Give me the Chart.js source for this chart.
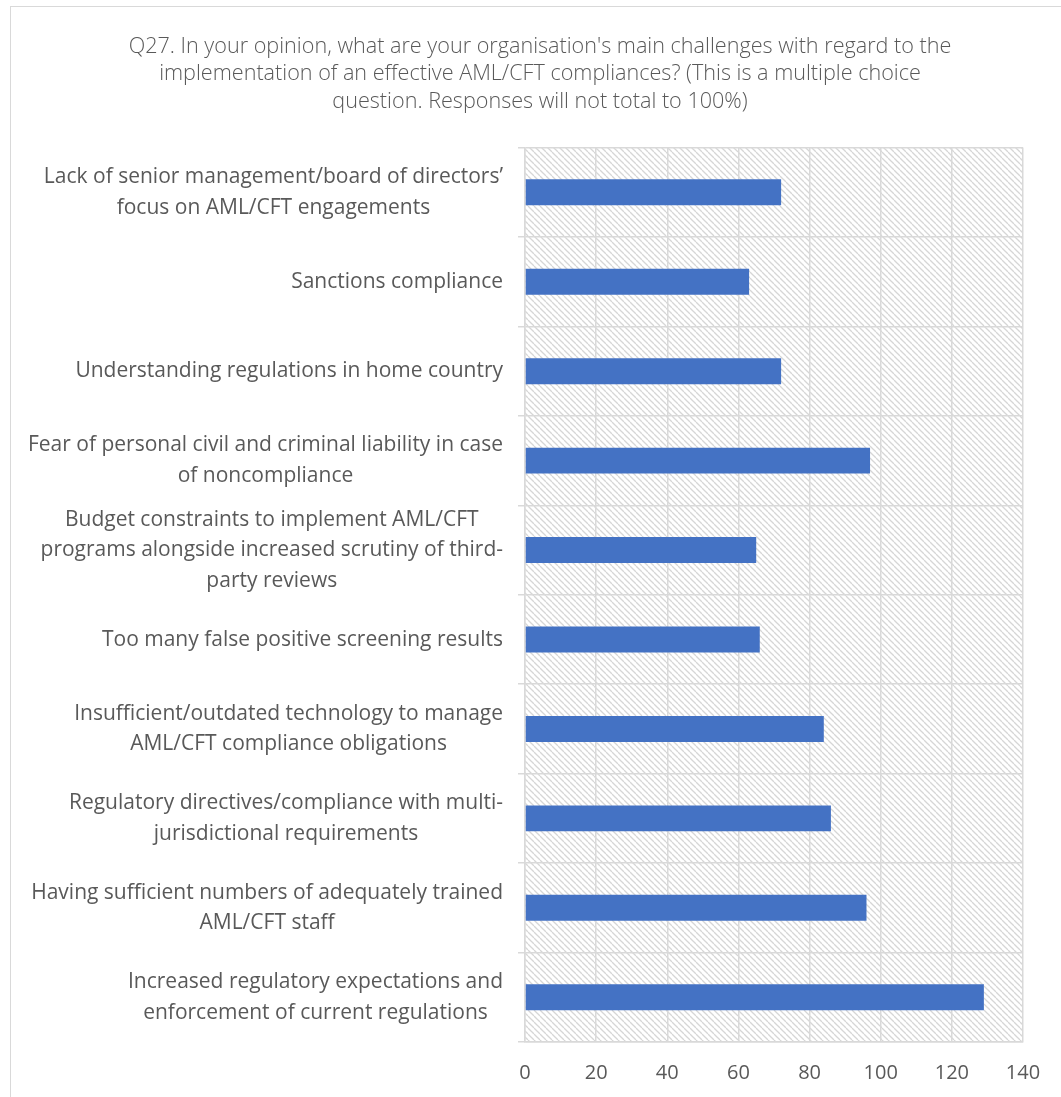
<!DOCTYPE html>
<html>
<head>
<meta charset="utf-8">
<title>Q27 AML/CFT challenges</title>
<script src="https://cdn.jsdelivr.net/npm/chart.js@4.4.1/dist/chart.umd.min.js"></script>
<style>
    html, body { margin: 0; padding: 0; background: #fff; overflow: hidden; }
    #frame {
        position: absolute; left: 10px; top: 6px;
        width: 1060px; height: 1100px;
        border: 1px solid #d9d9d9;
    }
    #challengeChart { position: absolute; left: 1px; top: 1px; }
</style>
</head>
<body>
<div id="frame">
    <canvas id="challengeChart" width="1060" height="1100"></canvas>
</div>
<script>
// Survey answers, top to bottom
const challenges = [
    ['Lack of senior management/board of directors’', 'focus on AML/CFT engagements'],
    'Sanctions compliance',
    'Understanding regulations in home country',
    ['Fear of personal civil and criminal liability in case', 'of noncompliance'],
    ['Budget constraints to implement AML/CFT', 'programs alongside increased scrutiny of third-', 'party reviews'],
    'Too many false positive screening results',
    ['Insufficient/outdated technology to manage', 'AML/CFT compliance obligations'],
    ['Regulatory directives/compliance with multi-', 'jurisdictional requirements'],
    ['Having sufficient numbers of adequately trained', 'AML/CFT staff'],
    ['Increased regulatory expectations and', 'enforcement of current regulations']
];
const responses = [72, 63, 72, 97, 65, 66, 84, 86, 96, 129];
const xTicks = [0, 20, 40, 60, 80, 100, 120, 140];

const titleLines = [
    "Q27. In your opinion, what are your organisation's main challenges with regard to the",
    'implementation of an effective AML/CFT compliances? (This is a multiple choice',
    'question. Responses will not total to 100%)'
];

const textColor = '#595959';
const gridColor = '#d9d9d9';

// Light downward-diagonal hatch for the plot area
function makeHatch() {
    const s = 6;
    const tile = document.createElement('canvas');
    tile.width = s;
    tile.height = s;
    const t = tile.getContext('2d');
    t.fillStyle = '#fff';
    t.fillRect(0, 0, s, s);
    t.strokeStyle = '#d6d6d6';
    t.lineWidth = 1.3;
    for (let k = -1; k <= 1; k++) {
        t.beginPath();
        t.moveTo(k * s, 0);
        t.lineTo(k * s + s, s);
        t.stroke();
    }
    return t.createPattern(tile, 'repeat');
}

const hatchBackground = {
    id: 'hatchBackground',
    beforeDraw(chart) {
        const { ctx, chartArea: a } = chart;
        ctx.save();
        ctx.fillStyle = makeHatch();
        ctx.fillRect(a.left, a.top, a.right - a.left, a.bottom - a.top);
        ctx.restore();
    }
};

// Category labels: block right-aligned to the axis, lines centred within it
const categoryLabels = {
    id: 'categoryLabels',
    afterDraw(chart) {
        const { ctx, chartArea } = chart;
        const yScale = chart.scales.y;
        const lineH = 30.5;
        ctx.save();
        ctx.font = '21px "Open Sans"';
        ctx.fillStyle = textColor;
        ctx.textAlign = 'center';
        ctx.textBaseline = 'middle';
        challenges.forEach((label, i) => {
            const lines = Array.isArray(label) ? label : [label];
            const maxW = Math.max(...lines.map(l => ctx.measureText(l).width));
            const cx = chartArea.left - 22 - maxW / 2;
            const cy = yScale.getPixelForValue(i);
            lines.forEach((line, j) => {
                ctx.fillText(line, cx, cy + (j - (lines.length - 1) / 2) * lineH);
            });
        });
        ctx.restore();
    }
};

const ctx = document.getElementById('challengeChart').getContext('2d');
const challengeChart = new Chart(ctx, {
    type: 'bar',
    data: {
        labels: challenges,
        datasets: [{
            data: responses,
            backgroundColor: '#4472c4',
            borderWidth: 0,
            categoryPercentage: 1,
            barPercentage: 0.29
        }]
    },
    options: {
        indexAxis: 'y',
        responsive: false,
        animation: false,
        layout: { padding: { left: 45, right: 49, top: 0, bottom: 0 } },
        scales: {
            x: {
                min: xTicks[0],
                max: xTicks[xTicks.length - 1],
                afterBuildTicks: scale => {
                    scale.ticks = xTicks.map(v => ({ value: v }));
                },
                afterFit: scale => { scale.height = 66; },
                grid: { color: gridColor, lineWidth: 1.5, drawTicks: false },
                border: { color: gridColor, width: 1.5 },
                ticks: {
                    color: textColor,
                    padding: 19,
                    font: { family: 'Open Sans', size: 20 }
                }
            },
            y: {
                afterFit: scale => { scale.width = 468; },
                grid: { color: gridColor, lineWidth: 1.5, offset: true, drawTicks: true, tickLength: 7 },
                border: { color: gridColor, width: 1.5 },
                ticks: { display: false }
            }
        },
        plugins: {
            legend: { display: false },
            tooltip: { enabled: false },
            title: {
                display: true,
                text: titleLines,
                color: textColor,
                font: { family: 'Open Sans', size: 21.6, weight: 300, lineHeight: 1.275 },
                padding: { top: 25, bottom: 32 }
            }
        }
    },
    plugins: [hatchBackground, categoryLabels]
});
</script>
</body>
</html>
